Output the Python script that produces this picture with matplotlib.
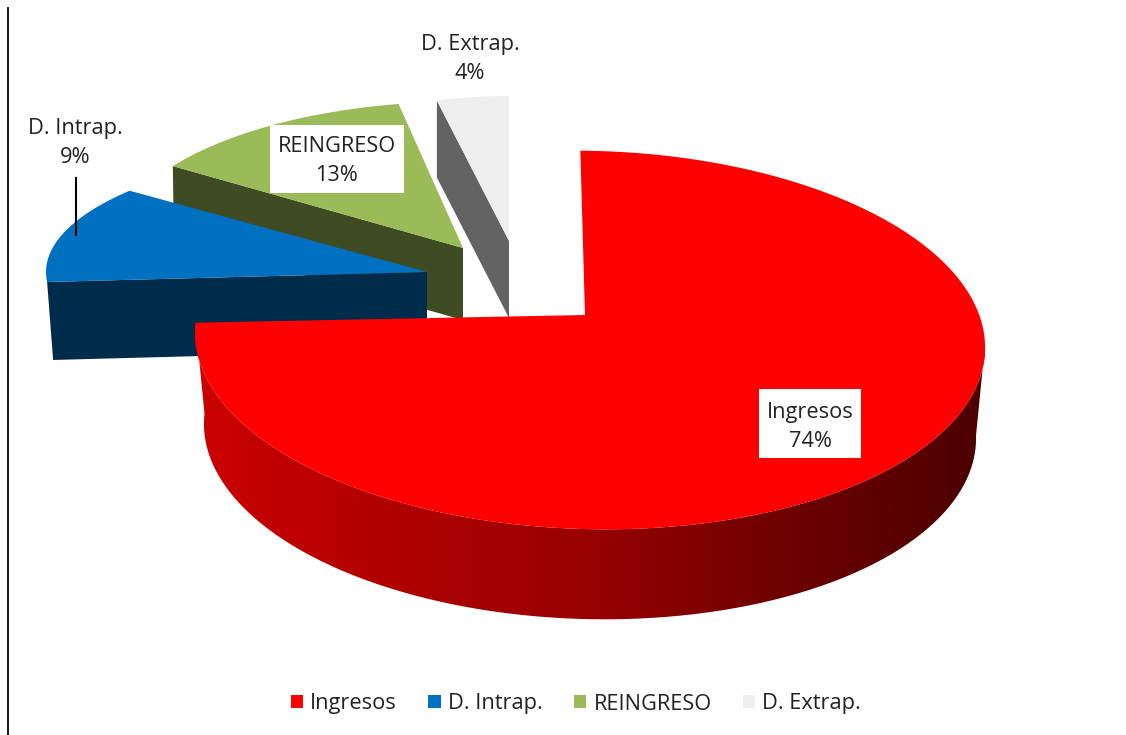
import numpy as np
import matplotlib
matplotlib.use("Agg")
import matplotlib.pyplot as plt
from matplotlib.patches import Patch, PathPatch
from matplotlib.path import Path
from matplotlib.colors import LinearSegmentedColormap

categories = ["Ingresos", "D. Intrap.", "REINGRESO", "D. Extrap."]
shares = [74, 9, 13, 4]
slice_colors = ["#FF0000", "#0070C0", "#9BBB59", "#EEEEEE"]
wall_colors = [None, "#002C4C", "#3F4B23", "#636363"]

# layout of each exploded slice (screen pixels): apex, radii, first angle, perspective stretch, depth
geom = {
    "D. Intrap.": dict(apex=(427, 272), a=381, b=130, t0=-94.4, stretch=1.33, depth=78, skew=6),
    "REINGRESO": dict(apex=(463, 248), a=350, b=146.5, t0=-56.0, stretch=0.97, depth=72, skew=1),
    "D. Extrap.": dict(apex=(509, 241), a=290, b=145, t0=-14.4, stretch=1.0, depth=77, skew=0),
}

plt.rcParams["font.family"] = ["Open Sans", "DejaVu Sans"]
fig = plt.figure(figsize=(11.26, 7.35), dpi=100)
ax = fig.add_axes([0, 0, 1, 1])
ax.axis("off")
ax.plot([8, 8], [8, 735], color="black", lw=1.3, zorder=1)


def arc(apex, a, b, t0, span, n=60):
    t = np.radians(np.linspace(t0, t0 + span, n))
    return apex[0] + a * np.sin(t), apex[1] - b * np.cos(t)


for name, share, col, wall in zip(categories, shares, slice_colors, wall_colors):
    if name not in geom:
        continue
    g = geom[name]
    span = share * 3.6 * g["stretch"]
    x, y = arc(g["apex"], g["a"], g["b"], g["t0"], span)
    ax1, ay1 = g["apex"]
    d, s = g["depth"], g["skew"]
    layer = 5 - categories.index(name)
    # side wall below the cut edge that starts the slice
    ax.fill([x[0], ax1, ax1, x[0] + s], [y[0], ay1, ay1 + d, y[0] + d], color=wall, lw=0, zorder=2 + layer)
    ax.fill(np.r_[ax1, x], np.r_[ay1, y], color=col, lw=0, zorder=2.5 + layer)

# main slice: sheared ellipse, apex displaced by the perspective
cx, cy, a, b = 590, 340, 395, 189
shx, shy = -0.04, 0.028
t = np.radians(np.linspace(-2.5, -2.5 + shares[0] * 3.6 * 1.03, 300))
lx, ly = a * np.sin(t), -b * np.cos(t)
tx, ty = cx + lx + shx * ly, cy + ly + shy * lx

# wall of the main slice, shaded left to right
a2, b2, cy2, cx2 = 386, 188, 431, 590
tw = np.radians(np.linspace(-92, 92, 260)) + np.pi
wx0, wy0 = cx + a * np.sin(tw) + shx * (-b * np.cos(tw)), cy - b * np.cos(tw) + shy * a * np.sin(tw)
wx1, wy1 = cx2 + a2 * np.sin(tw) + shx * (-b2 * np.cos(tw)), cy2 - b2 * np.cos(tw) + shy * a2 * np.sin(tw)
shade = LinearSegmentedColormap.from_list("wall", ["#CC0000", "#B00000", "#980000", "#6E0000", "#4C0000"])
im = ax.imshow(np.linspace(0, 1, 512)[None, :], extent=(195, 985, 640, 320), cmap=shade, aspect="auto", zorder=9)
wall_path = Path(np.c_[np.r_[wx0, wx1[::-1]], np.r_[wy0, wy1[::-1]]])
clip = PathPatch(wall_path, facecolor="none", edgecolor="none", transform=ax.transData)
ax.add_patch(clip)
im.set_clip_path(clip)
ax.fill(np.r_[585, tx], np.r_[315, ty], color=slice_colors[0], lw=0, zorder=10)

# labels
label_kw = dict(ha="center", va="center", fontsize=15.7, color="#222222", linespacing=1.44, zorder=12)
ax.fill([759, 861, 861, 759], [389, 389, 458, 458], color="white", lw=0, zorder=11)
ax.fill([270, 404, 404, 270], [125, 125, 193, 193], color="white", lw=0, zorder=11)
positions = {"Ingresos": (810, 427), "D. Intrap.": (75, 143), "REINGRESO": (337, 161), "D. Extrap.": (470, 59)}
for name, share in zip(categories, shares):
    px, py = positions[name]
    ax.text(px, py, f"{name}\n{share}%", **label_kw)
ax.plot([75.5, 75.5], [178, 235], color="black", lw=1.5, zorder=8)

handles = [Patch(facecolor=c, edgecolor="none") for c in slice_colors]
ax.legend(handles, categories, loc="center", bbox_to_anchor=(576 / 1126, 1 - 704 / 735), ncol=4,
          frameon=False, fontsize=15.7, labelcolor="#222222", handlelength=0.56, handleheight=0.56,
          handletextpad=0.33, columnspacing=1.44)
ax.set_xlim(0, 1126)
ax.set_ylim(735, 0)
fig.savefig("out.png", dpi=100, facecolor="white")
